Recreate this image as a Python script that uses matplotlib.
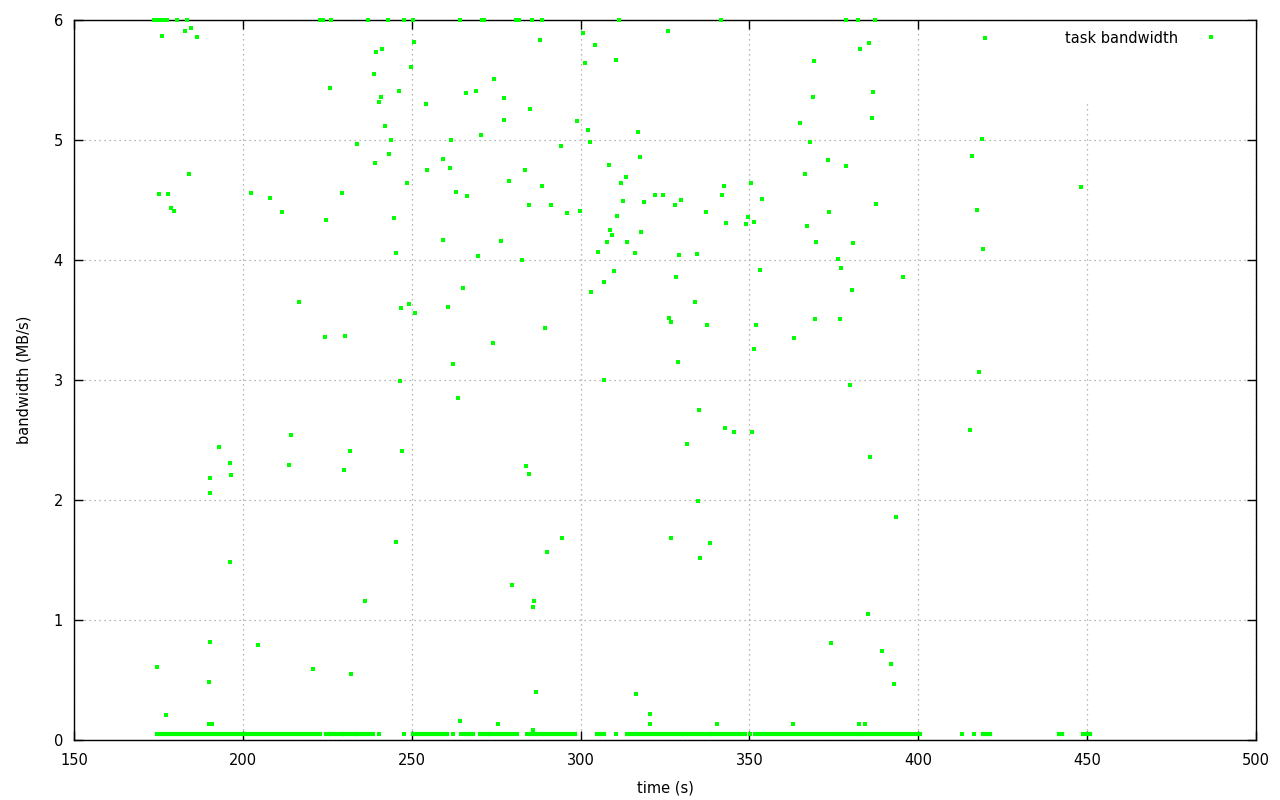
import matplotlib
matplotlib.use("Agg")
import matplotlib.pyplot as plt
from matplotlib.patches import Rectangle

GREEN = "#00ff00"
GRID = "#a0a0a0"

# samples pinned at the 6 MB/s ceiling
top_t = [173.8, 174.2, 174.6, 175.0, 175.5, 176.0, 176.5, 177.0, 177.6, 180.6, 183.5,
         222.8, 223.7, 226.2, 237.2, 243.1, 247.8, 250.5, 264.4, 270.7, 271.4, 280.8,
         281.9, 285.5, 288.7, 311.5, 341.6, 378.6, 382.2, 387.2]
top_bw = 6.0

# scattered samples (time s, MB/s)
early = [(176.1, 5.87), (183.0, 5.91), (184.7, 5.93), (186.5, 5.86), (250.6, 5.82), (239.5, 5.73),
         (241.3, 5.76), (249.9, 5.61), (238.7, 5.55), (225.9, 5.43), (246.3, 5.41), (241.0, 5.36),
         (240.4, 5.32), (254.3, 5.30), (266.2, 5.39), (242.2, 5.12), (244.0, 5.00), (261.7, 5.00),
         (233.9, 4.97), (243.4, 4.88), (239.2, 4.81), (259.4, 4.84), (261.4, 4.77), (254.6, 4.75),
         (184.1, 4.72), (248.7, 4.64), (175.3, 4.55), (177.9, 4.55), (178.8, 4.43), (179.7, 4.41),
         (202.5, 4.56), (208.1, 4.52), (211.7, 4.40), (229.4, 4.56), (224.7, 4.33), (263.2, 4.57),
         (266.5, 4.53), (244.8, 4.35), (259.4, 4.17), (245.4, 4.06), (265.3, 3.77), (216.7, 3.65),
         (246.9, 3.60), (249.3, 3.63), (251.1, 3.56), (260.8, 3.61), (224.4, 3.36), (230.3, 3.37),
         (262.3, 3.13), (246.6, 2.99), (263.8, 2.85), (214.4, 2.54), (193.0, 2.44), (196.3, 2.31),
         (196.6, 2.21), (190.4, 2.18), (190.4, 2.06), (213.8, 2.29), (231.8, 2.41), (230.0, 2.25),
         (247.2, 2.41), (196.3, 1.48), (245.4, 1.65), (236.3, 1.16), (190.4, 0.82), (204.6, 0.79),
         (174.7, 0.61), (190.1, 0.48), (220.9, 0.59), (232.1, 0.55), (177.3, 0.21), (190.0, 0.13),
         (190.8, 0.13), (264.4, 0.16)]
mid = [(288.1, 5.83), (300.8, 5.89), (304.4, 5.79), (301.4, 5.64), (310.6, 5.67), (326.0, 5.91),
       (274.5, 5.51), (269.1, 5.41), (277.4, 5.35), (285.1, 5.26), (277.4, 5.17), (299.0, 5.16),
       (270.6, 5.04), (302.3, 5.08), (317.1, 5.07), (302.9, 4.98), (294.3, 4.95), (317.7, 4.86),
       (283.6, 4.75), (278.9, 4.66), (288.7, 4.62), (284.8, 4.46), (291.3, 4.46), (296.1, 4.39),
       (299.9, 4.41), (308.5, 4.79), (313.5, 4.69), (312.1, 4.64), (312.7, 4.49), (318.9, 4.48),
       (322.1, 4.54), (324.5, 4.54), (328.1, 4.46), (329.8, 4.50), (310.9, 4.37), (342.6, 4.62),
       (342.0, 4.54), (337.2, 4.40), (343.2, 4.31), (349.7, 4.36), (349.1, 4.30), (350.6, 4.64),
       (353.8, 4.51), (351.5, 4.32), (352.0, 3.46), (351.5, 3.26), (353.2, 3.92), (334.6, 4.05),
       (329.2, 4.04), (316.2, 4.06), (305.3, 4.07), (307.9, 4.15), (308.8, 4.25), (309.4, 4.21),
       (313.8, 4.15), (318.0, 4.23), (276.5, 4.16), (269.7, 4.03), (282.8, 4.00), (310.0, 3.91),
       (307.0, 3.82), (303.2, 3.73), (328.4, 3.86), (334.0, 3.65), (326.3, 3.52), (326.9, 3.48),
       (337.5, 3.46), (289.6, 3.43), (274.2, 3.31), (328.9, 3.15), (307.0, 3.00), (335.2, 2.75),
       (342.9, 2.60), (345.5, 2.57), (350.9, 2.57), (331.6, 2.47), (283.9, 2.28), (284.8, 2.22),
       (334.9, 1.99), (294.6, 1.68), (290.2, 1.57), (326.9, 1.68), (338.4, 1.64), (335.5, 1.52),
       (279.8, 1.29), (286.3, 1.16), (286.0, 1.11), (286.9, 0.40), (316.5, 0.38), (320.6, 0.22),
       (320.6, 0.13), (275.6, 0.13), (340.5, 0.13), (286.0, 0.08)]
late = [(369.2, 5.66), (382.8, 5.76), (368.9, 5.36), (365.1, 5.14), (368.0, 4.98), (373.4, 4.83),
        (378.7, 4.78), (366.6, 4.72), (373.7, 4.40), (367.1, 4.28), (369.8, 4.15), (380.8, 4.14),
        (376.3, 4.01), (377.2, 3.93), (380.5, 3.75), (369.5, 3.51), (376.9, 3.51), (363.3, 3.35),
        (385.5, 5.81), (419.9, 5.85), (386.7, 5.40), (386.4, 5.18), (419.0, 5.01), (416.0, 4.87),
        (448.3, 4.61), (387.6, 4.47), (417.5, 4.42), (419.3, 4.09), (395.6, 3.86), (418.1, 3.07),
        (379.9, 2.96), (374.3, 0.81), (363.0, 0.13), (382.3, 0.13), (415.4, 2.58), (385.8, 2.36),
        (393.5, 1.86), (385.2, 1.05), (389.4, 0.74), (392.0, 0.63), (392.9, 0.47), (384.3, 0.13)]

# the dense floor of near-zero samples: runs (start, end) and lone points
floor_bw = 0.047
floor_runs = [(174.6, 222.9), (224.6, 225.6), (226.0, 229.3), (230.0, 233.2), (233.7, 238.6),
              (250.5, 258.3), (259.2, 260.5), (265.9, 268.2), (270.2, 272.7), (273.2, 281.1),
              (285.0, 286.5), (287.5, 298.4), (304.8, 307.0), (313.7, 330.0), (330.7, 333.4),
              (334.4, 338.3), (338.8, 348.7), (351.7, 366.5), (367.5, 375.9), (376.7, 381.8),
              (382.3, 400.4), (419.3, 421.3), (441.8, 442.6), (448.9, 450.9)]
floor_single = [240.4, 247.8, 262.3, 264.7, 284.0, 310.5, 350.2, 412.8, 416.4]

fig = plt.figure(figsize=(12.8, 8), dpi=100)
ax = fig.add_axes([74/1280, 60/800, 1182/1280, 720/800])

pts = early + mid + late
t = [p[0] for p in pts] + top_t + floor_single
bw = [p[1] for p in pts] + [top_bw]*len(top_t) + [floor_bw]*len(floor_single)
ax.plot(t, bw, ls="none", marker="s", ms=2.4, color=GREEN, mew=0, clip_on=False,
        zorder=3, label="task bandwidth")
ax.hlines([floor_bw]*len(floor_runs), [r[0] for r in floor_runs], [r[1] for r in floor_runs],
          colors=GREEN, linewidth=3.0, capstyle="projecting", zorder=3)

ax.set_xlim(150, 500); ax.set_ylim(0, 6)
ax.set_xticks(range(150, 501, 50)); ax.set_yticks(range(0, 7))
ax.tick_params(direction="in", length=6.5, width=1, top=True, right=True, labelsize=10.5, pad=8)
ax.tick_params(axis="x", pad=9.5)
ax.grid(True, color=GRID, linestyle=(0, (1, 3)), linewidth=0.9)
for s in ax.spines.values(): s.set_linewidth(1.0)
# key area blanks out the grid behind it, like the original
ax.add_patch(Rectangle((0.815, 0.885), 0.185, 0.115, transform=ax.transAxes,
                       facecolor="white", edgecolor="none", zorder=1.8))

ax.set_xlabel("time (s)", fontsize=10.5, labelpad=9)
ax.set_ylabel("bandwidth (MB/s)", fontsize=10.5, labelpad=16)
ax.legend(loc="upper right", bbox_to_anchor=(0.9855, 0.9935), frameon=False, markerfirst=False,
          fontsize=10.5, handlelength=3.0, handletextpad=0.75, borderaxespad=0, borderpad=0.4)

fig.savefig("out.png", dpi=100, facecolor="white")
